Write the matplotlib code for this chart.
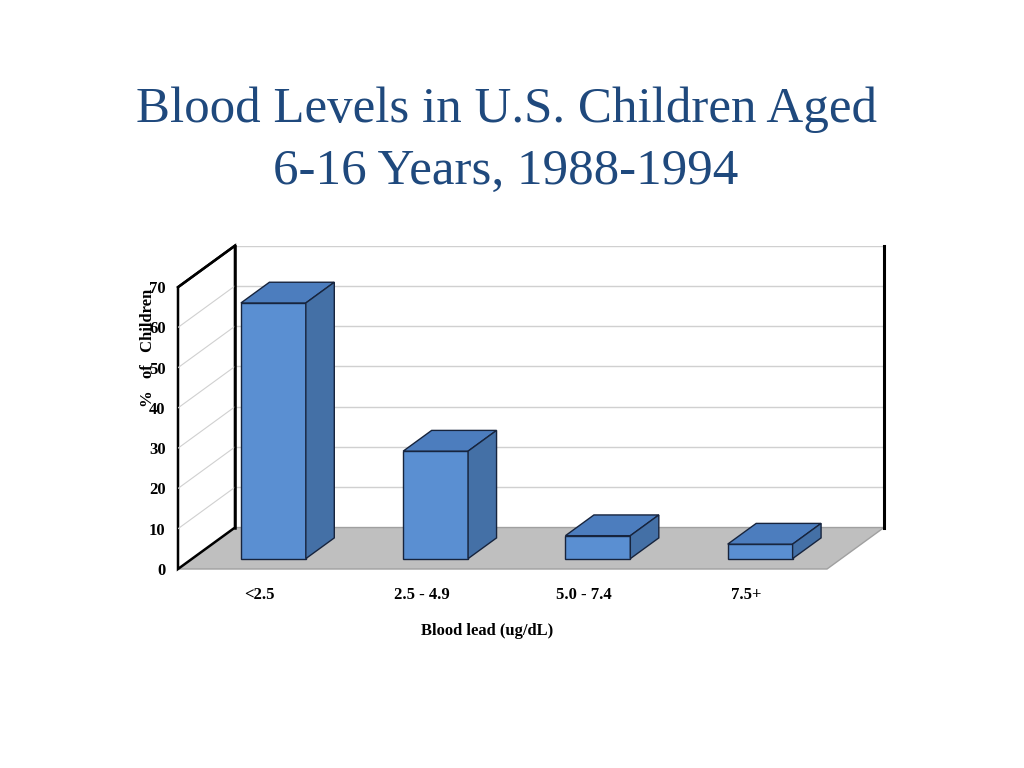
import matplotlib
matplotlib.use("Agg")
import matplotlib.pyplot as plt
from matplotlib.patches import Polygon

# data
categories = ["<2.5", "2.5 - 4.9", "5.0 - 7.4", "7.5+"]
percent = [63.5, 26.7, 5.7, 3.6]
yticks = [0, 10, 20, 30, 40, 50, 60, 70]

title = "Blood Levels in U.S. Children Aged\n6-16 Years, 1988-1994"
xlabel = "Blood lead (ug/dL)"
ylabel = "%   of   Children"

# fake 3d depth, in data units
DX = 0.351
DY = 10.3
bar_w = 0.40
ymax = 70

front_c = "#5A8FD2"
top_c = "#4C7DBE"
side_c = "#4470A6"
edge_c = "#17243D"

serif = ["Liberation Serif", "DejaVu Serif"]

W, H = 1024, 768
fig = plt.figure(figsize=(W / 100, H / 100), dpi=100)
# axes placed so the front plane and the back wall land where they do in the slide
left, right, bottom, top = 178, 884, 569, 245.7
ax = fig.add_axes([left / W, 1 - bottom / H, (right - left) / W, (bottom - top) / H])
n = len(categories)
ax.set_xlim(-0.5, n - 0.5 + DX)
ax.set_ylim(0, ymax + DY)
for s in ax.spines.values():
    s.set_visible(False)

x0 = -0.5
x1 = n - 0.5

# floor
ax.add_patch(Polygon([(x0, 0), (x1, 0), (x1 + DX, DY), (x0 + DX, DY)],
                     closed=True, facecolor="#BFBFBF", edgecolor="#A0A0A0",
                     lw=1, zorder=1, clip_on=False))
# left wall
ax.add_patch(Polygon([(x0, 0), (x0 + DX, DY), (x0 + DX, ymax + DY), (x0, ymax)],
                     closed=True, facecolor="white", edgecolor="black",
                     lw=1.8, zorder=2, clip_on=False))

# gridlines, back wall and side wall
for v in yticks[1:]:
    ax.plot([x0 + DX, x1 + DX], [v + DY, v + DY], color="#D0D0D0", lw=1, zorder=1.5)
    ax.plot([x0, x0 + DX], [v, v + DY], color="#D0D0D0", lw=0.8, zorder=2.5)
ax.plot([x1 + DX, x1 + DX], [DY, ymax + DY], color="black", lw=2.2, zorder=2, clip_on=False)
ax.plot([x0 + DX, x0 + DX], [DY, ymax + DY], color="black", lw=1.8, zorder=2.6, clip_on=False)
ax.plot([x0, x0 + DX], [ymax, ymax + DY], color="black", lw=1.8, zorder=2.6, clip_on=False)

# bars: front face from ax.bar, top and side faces follow the same values
xs = list(range(n))
b0 = 0.25 * DY
bx = [x + 0.25 * DX for x in xs]
ax.bar(bx, percent, width=bar_w, bottom=b0, color=front_c,
       edgecolor=edge_c, lw=1, zorder=3)
hdx, hdy = 0.5 * DX, 0.5 * DY
for xc, v in zip(bx, percent):
    xl, xr = xc - bar_w / 2, xc + bar_w / 2
    t = b0 + v
    ax.add_patch(Polygon([(xl, t), (xr, t), (xr + hdx, t + hdy), (xl + hdx, t + hdy)],
                         closed=True, facecolor=top_c, edgecolor=edge_c, lw=1, zorder=3))
    ax.add_patch(Polygon([(xr, b0), (xr + hdx, b0 + hdy), (xr + hdx, t + hdy), (xr, t)],
                         closed=True, facecolor=side_c, edgecolor=edge_c, lw=1, zorder=3))

# ticks
ax.set_yticks(yticks)
ax.set_yticklabels([str(v) for v in yticks], fontfamily=serif, fontweight="bold", fontsize=12)
ax.set_xticks(xs)
ax.set_xticklabels(categories, fontfamily=serif, fontweight="bold", fontsize=12)
ax.tick_params(axis="y", length=0, pad=9)
ax.tick_params(axis="x", length=0, pad=13)

fig.text(487 / W, 1 - 631 / H, xlabel, ha="center", va="center",
         fontfamily=serif, fontweight="bold", fontsize=12)
fig.text(148 / W, 1 - 348 / H, ylabel, ha="center", va="center", rotation=90,
         fontfamily=serif, fontweight="bold", fontsize=12)

fig.text(506 / W, 1 - 141 / H, title, ha="center", va="center",
         fontfamily=serif, fontsize=36.7, color="#1F497D", linespacing=1.44)

fig.savefig("out.png", dpi=100)
